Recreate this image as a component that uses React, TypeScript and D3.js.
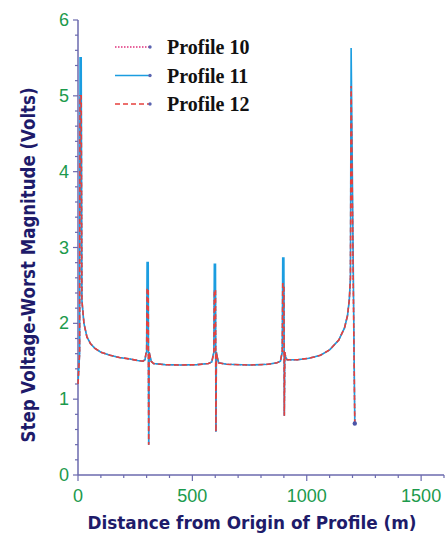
import { useEffect, useRef } from 'react';
import * as d3 from 'd3';

// distance along the profile (m)
const distance = [
  0, 7, 9, 14, 17, 20, 26, 39, 55, 74, 100, 140, 180, 227, 260, 284,
  293, 297, 300, 302, 307, 309, 311, 314, 320, 330, 380, 450, 520, 570, 585,
  591, 594, 596, 601, 603, 605, 609, 615, 650, 750, 830, 870, 885,
  890, 893, 895, 900, 902, 904, 908, 914, 960, 1010, 1060, 1100, 1140, 1165, 1178, 1186,
  1191, 1194, 1210,
];

// step voltage (V), profile 11 (tallest spikes)
const profile11 = [
  1.2, 1.6, 5.5, 5.5, 2.31, 2.2, 2.0, 1.82, 1.73, 1.67, 1.62, 1.58, 1.55, 1.53, 1.51, 1.5,
  1.52, 1.6, 1.62, 2.8, 2.8, 0.4, 1.62, 1.58, 1.5, 1.47, 1.455, 1.45, 1.455, 1.47, 1.49,
  1.58, 1.62, 2.78, 2.78, 0.57, 1.62, 1.55, 1.48, 1.46, 1.45, 1.46, 1.48, 1.5,
  1.58, 1.62, 2.86, 2.86, 0.78, 1.62, 1.55, 1.52, 1.52, 1.54, 1.58, 1.65, 1.78, 1.94, 2.1, 2.31,
  2.6, 5.63, 0.68,
];

// profile 12 (same run, lower spikes)
const profile12 = [
  1.2, 1.6, 5.0, 5.0, 2.31, 2.2, 2.0, 1.82, 1.73, 1.67, 1.62, 1.58, 1.55, 1.53, 1.51, 1.5,
  1.52, 1.6, 1.62, 2.46, 2.46, 0.4, 1.62, 1.58, 1.5, 1.47, 1.455, 1.45, 1.455, 1.47, 1.49,
  1.58, 1.62, 2.44, 2.44, 0.57, 1.62, 1.55, 1.48, 1.46, 1.45, 1.46, 1.48, 1.5,
  1.58, 1.62, 2.52, 2.52, 0.78, 1.62, 1.55, 1.52, 1.52, 1.54, 1.58, 1.65, 1.78, 1.94, 2.1, 2.31,
  2.6, 5.13, 0.68,
];

// profile 10 (hidden under the others)
const profile10 = [
  1.2, 1.6, 5.0, 5.0, 2.31, 2.2, 2.0, 1.82, 1.73, 1.67, 1.62, 1.58, 1.55, 1.53, 1.51, 1.5,
  1.52, 1.6, 1.62, 2.45, 2.45, 0.4, 1.62, 1.58, 1.5, 1.47, 1.455, 1.45, 1.455, 1.47, 1.49,
  1.58, 1.62, 2.43, 2.43, 0.57, 1.62, 1.55, 1.48, 1.46, 1.45, 1.46, 1.48, 1.5,
  1.58, 1.62, 2.5, 2.5, 0.78, 1.62, 1.55, 1.52, 1.52, 1.54, 1.58, 1.65, 1.78, 1.94, 2.1, 2.31,
  2.6, 5.1, 0.68,
];

const xTicks = [0, 500, 1000, 1500];
const yTicks = [0, 1, 2, 3, 4, 5, 6];
const legendLabels = ['Profile 10', 'Profile 11', 'Profile 12'];

const App = () => {
  const svgRef = useRef<SVGSVGElement | null>(null);
  const width = 446;
  const height = 537;

  useEffect(() => {
    const svg = d3.select(svgRef.current);
    svg.selectAll('*').remove();

    const axisColor = '#6b6aae';
    const tickColor = '#1c9a4c';
    const titleColor = '#1e1b6a';

    const x = d3.scaleLinear().domain([0, 1600]).range([78, 444]);
    const y = d3.scaleLinear().domain([0, 6]).range([475, 20]);

    // axes
    const xAxis = svg.append('g').attr('transform', `translate(0, ${y(0)})`);
    xAxis.append('line').attr('x1', x(0)).attr('x2', x(1600)).attr('stroke', axisColor).attr('stroke-width', 1.5);
    xAxis.selectAll('.minor')
      .data(d3.range(0, 1601, 100))
      .join('line')
      .attr('x1', d => x(d)).attr('x2', d => x(d))
      .attr('y1', 0).attr('y2', d => (d % 500 === 0 ? 6 : 3))
      .attr('stroke', axisColor).attr('stroke-width', 1.2);
    xAxis.selectAll('text')
      .data(xTicks)
      .join('text')
      .attr('x', d => x(d)).attr('y', 27)
      .attr('text-anchor', 'middle')
      .attr('fill', tickColor)
      .style('font', '18px "Liberation Sans", Arial, sans-serif')
      .text(d => d);

    const yAxis = svg.append('g').attr('transform', `translate(${x(0)}, 0)`);
    yAxis.append('line').attr('y1', y(0)).attr('y2', y(6)).attr('stroke', axisColor).attr('stroke-width', 1.5);
    yAxis.selectAll('.minor')
      .data(d3.range(0, 31).map(i => i / 5))
      .join('line')
      .attr('y1', d => y(d)).attr('y2', d => y(d))
      .attr('x1', 0).attr('x2', (_d, i) => (i % 5 === 0 ? -5 : -3))
      .attr('stroke', axisColor).attr('stroke-width', 1.2);
    yAxis.selectAll('text')
      .data(yTicks)
      .join('text')
      .attr('x', -9).attr('y', d => y(d) + 6)
      .attr('text-anchor', 'end')
      .attr('fill', tickColor)
      .style('font', '18px "Liberation Sans", Arial, sans-serif')
      .text(d => d);

    // series
    const line = d3.line<number>()
      .x((_d, i) => x(distance[i]))
      .y(d => y(d));

    const series = [
      { values: profile10, color: '#e0307c', dash: '1.5,1.5', width: 1.3 },
      { values: profile11, color: '#1b9de0', dash: null, width: 1.6 },
      { values: profile12, color: '#e6403c', dash: '5,3', width: 1.6 },
    ];

    series.forEach(s => {
      svg.append('path')
        .attr('d', line(s.values))
        .attr('fill', 'none')
        .attr('stroke', s.color)
        .attr('stroke-width', s.width)
        .attr('stroke-dasharray', s.dash);
    });

    const last = distance.length - 1;
    svg.append('circle')
      .attr('cx', x(distance[last]))
      .attr('cy', y(profile11[last]))
      .attr('r', 2.2)
      .attr('fill', '#4a55a8');

    // legend
    const legend = svg.append('g');
    series.forEach((s, i) => {
      const ly = 47 + i * 28.5;
      legend.append('line')
        .attr('x1', 115).attr('x2', 149)
        .attr('y1', ly).attr('y2', ly)
        .attr('stroke', s.color)
        .attr('stroke-width', 1.6)
        .attr('stroke-dasharray', s.dash);
      legend.append('circle')
        .attr('cx', 150).attr('cy', ly).attr('r', 1.7)
        .attr('fill', '#5a64b0');
      legend.append('text')
        .attr('x', 167).attr('y', ly + 7)
        .attr('fill', '#111')
        .style('font', 'bold 20px "Liberation Serif", "Times New Roman", serif')
        .text(legendLabels[i]);
    });

    // axis titles
    svg.append('text')
      .attr('x', 252).attr('y', 529)
      .attr('text-anchor', 'middle')
      .attr('fill', titleColor)
      .attr('textLength', 329)
      .attr('lengthAdjust', 'spacingAndGlyphs')
      .style('font', 'bold 18px "DejaVu Sans", "Liberation Sans", sans-serif')
      .text('Distance from Origin of Profile (m)');

    svg.append('text')
      .attr('transform', 'rotate(-90)')
      .attr('x', -265).attr('y', 35)
      .attr('text-anchor', 'middle')
      .attr('fill', titleColor)
      .attr('textLength', 355)
      .attr('lengthAdjust', 'spacingAndGlyphs')
      .style('font', 'bold 19px "DejaVu Sans", "Liberation Sans", sans-serif')
      .text('Step Voltage-Worst Magnitude (Volts)');
  }, []);

  return (
    <div style={{ position: 'absolute', left: 0, top: 0 }}>
      <svg ref={svgRef} width={width} height={height} style={{ display: 'block', background: '#fff' }}></svg>
    </div>
  );
};

export default App;
